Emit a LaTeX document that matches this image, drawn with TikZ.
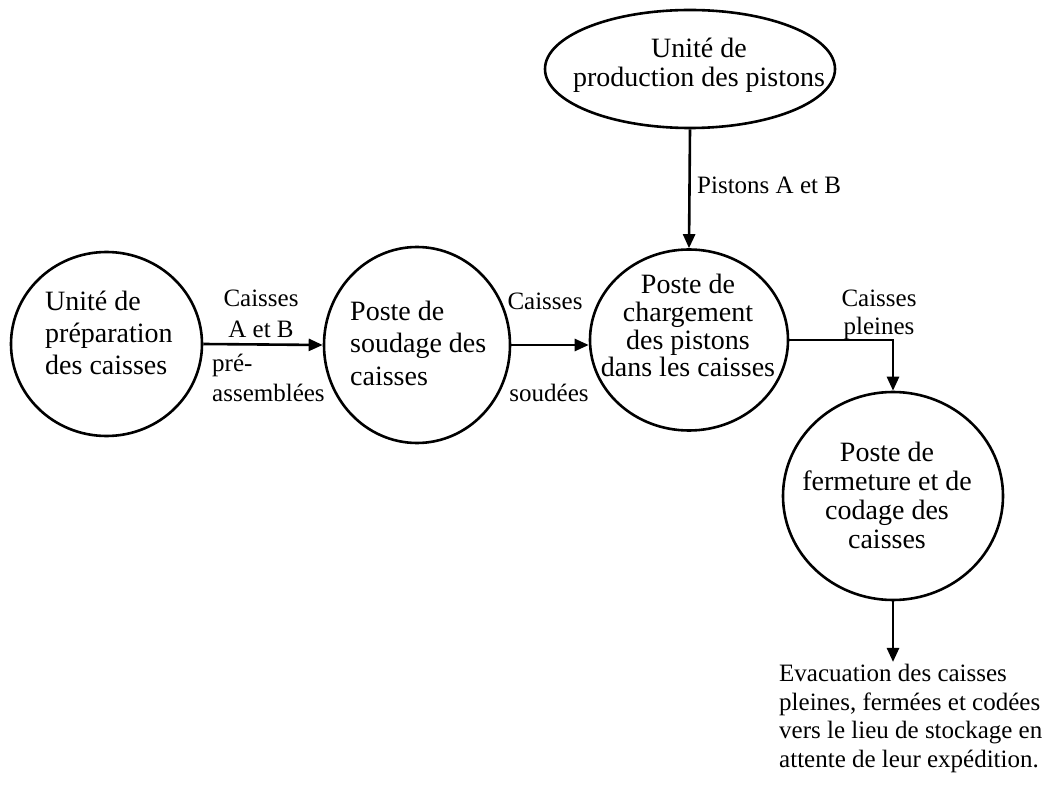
\documentclass[tikz,border=0pt]{standalone}
\usepackage{fontspec}
\setmainfont{Liberation Serif}
\usetikzlibrary{
  shapes.geometric,
  arrows.meta,
  positioning
}

\begin{document}
\begin{tikzpicture}[
    x=1pt, y=-1pt,
    poste/.style={
      ellipse, draw, line width=2.6pt,
      inner sep=0pt
    },
    txt/.style={
      inner sep=0pt,
      font=\fontsize{28}{30}\selectfont
    },
    lbl/.style={
      inner sep=0pt,
      font=\fontsize{25}{29}\selectfont
    },
    fleche/.style={-{Triangle[length=14pt,width=12pt]}, line width=2.6pt},
  ]
  \useasboundingbox (0,0) rectangle (1052,799);

  %% ── Postes ───────────────────────────────────────────────
  \node[poste, minimum width=191pt, minimum height=184pt] (prep)  at (106.5,344) {};
  \node[poste, minimum width=186pt, minimum height=196pt] (soud)  at (417,345)   {};
  \node[poste, minimum width=198pt, minimum height=181pt] (charg) at (689,340)   {};
  \node[poste, minimum width=220pt, minimum height=208pt] (ferm)  at (893,496)   {};
  \node[poste, minimum width=290pt, minimum height=118pt] (prod)  at (690,69)    {};

  %% ── Textes des postes (base = derniere ligne) ────────────
  \node[txt, align=left, anchor=base west, font=\fontsize{28}{31.5}\selectfont]
    (prep-txt) at (45,374) {Unité de\\préparation\\des caisses};
  \node[txt, align=left, anchor=base west, font=\fontsize{28}{32.5}\selectfont]
    (soud-txt) at (350,385) {Poste de\\soudage des\\caisses};
  \node[txt, align=center, anchor=base, font=\fontsize{28}{27.7}\selectfont]
    (charg-txt) at (688,377) {Poste de\\chargement\\des pistons\\dans les caisses};
  \node[txt, align=center, anchor=base, font=\fontsize{28}{29}\selectfont]
    (ferm-txt) at (887,548) {Poste de\\fermeture et de\\codage des\\caisses};
  \node[txt, align=center, anchor=base, font=\fontsize{28}{29}\selectfont]
    (prod-txt) at (699,87) {Unité de\\production des pistons};

  %% ── Sortie ───────────────────────────────────────────────
  \node[lbl, align=left, anchor=base west, font=\fontsize{25}{28.5}\selectfont]
    (evac) at (779,767) {Evacuation des caisses\\pleines, fermées et codées\\vers le lieu de stockage en\\attente de leur expédition.};

  %% ── Flux ─────────────────────────────────────────────────
  \draw[fleche] (prep.east)  -- (soud.west);
  \draw[fleche] (soud.east)  -- (soud.east -| charg.west);
  \draw[fleche] (prod.south) -- (charg.north);
  \draw[fleche] (charg.east) -| (ferm.north);
  \draw[fleche] (ferm.south) -- ([yshift=2pt]ferm.south |- evac.north);

  %% ── Libellés des flux ────────────────────────────────────
  \node[lbl, align=center, anchor=base, font=\fontsize{25}{31}\selectfont]
    (caisses-ab) at (261,338) {Caisses\\A et B};
  \node[lbl, align=left, anchor=base west, font=\fontsize{25}{30}\selectfont]
    (preass) at (212,402) {pré-\\assemblées};
  \node[lbl, anchor=base] (caisses-s) at (545,310) {Caisses};
  \node[lbl, anchor=base] (soudees)   at (549,402) {soudées};
  \node[lbl, align=center, anchor=base, font=\fontsize{25}{28}\selectfont]
    (pleines) at (879,335) {Caisses\\pleines};
  \node[lbl, anchor=base west] (pistons) at (697,194) {Pistons A et B};

\end{tikzpicture}
\end{document}
